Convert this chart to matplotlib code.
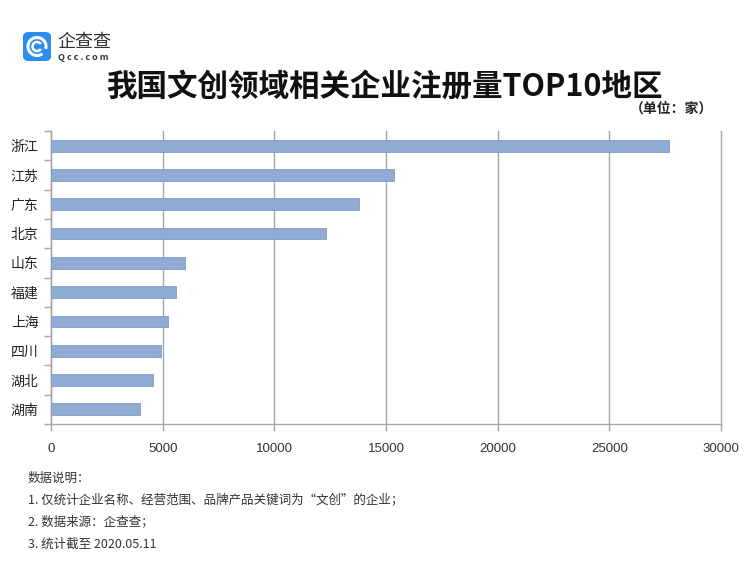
import matplotlib
matplotlib.use("Agg")
import matplotlib.pyplot as plt
from matplotlib.patches import FancyBboxPatch, Arc

plt.rcParams['font.family'] = ['Noto Sans CJK SC', 'DejaVu Sans']

regions = ["浙江", "江苏", "广东", "北京", "山东", "福建", "上海", "四川", "湖北", "湖南"]
counts = [27690, 15340, 13790, 12310, 6000, 5580, 5240, 4940, 4580, 3980]
xticks = [0, 5000, 10000, 15000, 20000, 25000, 30000]
title = "我国文创领域相关企业注册量TOP10地区"
unit = "（单位：家）"
notes = ["数据说明：",
         "1. 仅统计企业名称、经营范围、品牌产品关键词为“文创”的企业；",
         "2. 数据来源：企查查；",
         "3. 统计截至 2020.05.11"]

W, H = 750, 567
fig = plt.figure(figsize=(W / 100, H / 100), dpi=100)
fig.patch.set_facecolor("white")

def fx(px):
    return px / W

def fy(py):
    return 1 - py / H

ax = fig.add_axes([fx(51), fy(424), (721 - 51) / W, (424 - 131) / H])
ypos = list(range(len(regions)))
ax.barh(ypos, counts, height=0.4, color="#90ABD4", edgecolor="#7E9BC8", linewidth=0.6, zorder=3)
ax.set_xlim(0, 30000)
ax.set_ylim(len(regions) - 0.5, -0.5)
ax.set_xticks(xticks)
ax.set_xticklabels([str(v) for v in xticks], fontsize=9.5, color="#333333", family=["Liberation Sans Narrow", "Liberation Sans", "DejaVu Sans"])
ax.set_yticks(ypos)
ax.set_yticklabels(regions, fontsize=10, color="#222222")
ax.set_yticks([i - 0.5 for i in range(len(regions) + 1)], minor=True)
ax.tick_params(axis="y", which="major", length=0, pad=9)
ax.tick_params(axis="y", which="minor", length=5, color="#A6A6A6", width=1)
ax.tick_params(axis="x", which="major", length=5, color="#A6A6A6", width=1, pad=9)
ax.grid(axis="x", color="#A6A6A6", linewidth=1, zorder=0)
for gl in ax.get_xgridlines():
    gl.set_clip_on(False)
for s in ["top", "right"]:
    ax.spines[s].set_visible(False)
for s in ["left", "bottom"]:
    ax.spines[s].set_color("#A6A6A6")
    ax.spines[s].set_linewidth(1)

fig.text(fx(384), fy(87), title, fontsize=22, fontweight="bold", ha="center", va="center", color="#111111")
fig.text(fx(713), fy(109), unit, fontsize=10, fontweight="bold", ha="right", va="center", color="#222222")

for i, line in enumerate(notes):
    fig.text(fx(28), fy(478 + 22 * i), line, fontsize=9, ha="left", va="center", color="#333333")

# logo
logo = FancyBboxPatch((fx(23), fy(61)), fx(28), (61 - 32) / H,
                      boxstyle="round,pad=0,rounding_size=0.008",
                      transform=fig.transFigure, facecolor="#2D8CF0", edgecolor="none")
fig.patches.append(logo)
fig.patches.append(Arc((fx(37), fy(46.5)), fx(18), 18 / H, theta1=-20, theta2=300,
                       transform=fig.transFigure, color="white", linewidth=2.2))
fig.patches.append(Arc((fx(37), fy(46.5)), fx(9), 9 / H, theta1=40, theta2=320,
                       transform=fig.transFigure, color="white", linewidth=1.8))
fig.text(fx(57), fy(42), "企查查", fontsize=13, ha="left", va="center", color="#333333")
fig.text(fx(58), fy(58), "Q c c . c o m", fontsize=6.5, ha="left", va="center", color="#333333", fontweight="bold")

fig.savefig("out.png", dpi=100, facecolor="white")
